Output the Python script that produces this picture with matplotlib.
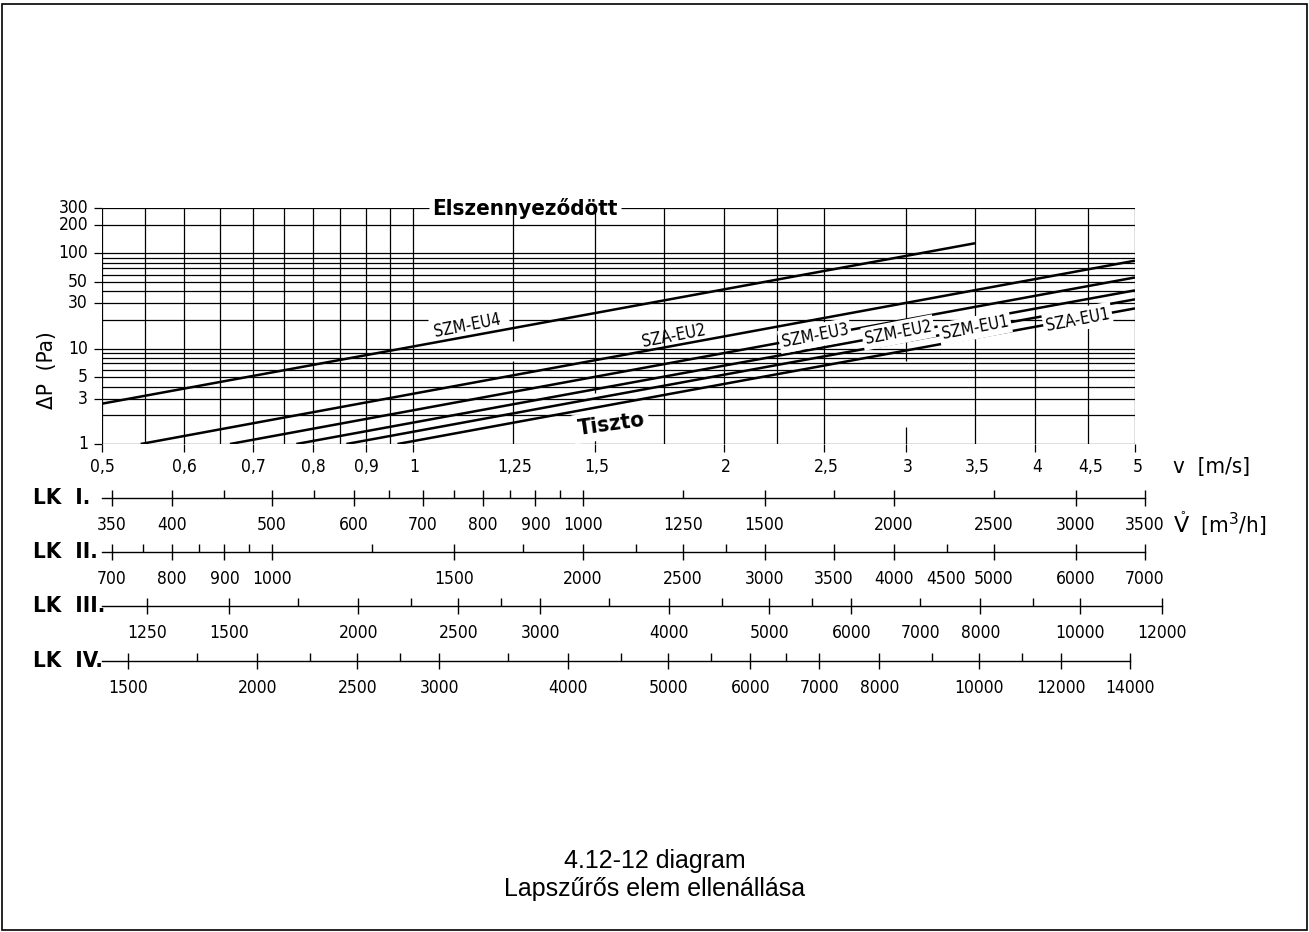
import math
import matplotlib
matplotlib.use("Agg")
import matplotlib.pyplot as plt
from matplotlib import font_manager

# Figure size in pixels
W, H = 1309, 932

# Pressure drop lines, read at both ends: velocity (m/s) and dP (Pa)
curve_names = ["SZM-EU4", "SZA-EU2", "SZM-EU3", "SZM-EU2", "SZM-EU1", "SZA-EU1"]
curve_v = [[0.5, 3.5], [0.545, 5.0], [0.665, 5.0], [0.771, 5.0], [0.862, 5.0], [0.966, 5.0]]
curve_dp = [[2.65, 128], [1, 84], [1, 56], [1, 41], [1, 33], [1, 26.5]]

# Velocity axis
v_ticks = [0.5, 0.6, 0.7, 0.8, 0.9, 1, 1.25, 1.5, 2, 2.5, 3, 3.5, 4, 4.5, 5]
v_labels = ["0,5", "0,6", "0,7", "0,8", "0,9", "1", "1,25", "1,5", "2", "2,5", "3", "3,5", "4", "4,5", "5"]
v_grid = [0.5, 0.55, 0.6, 0.65, 0.7, 0.75, 0.8, 0.85, 0.9, 0.95, 1, 1.25, 1.5, 1.75, 2, 2.25, 2.5, 3, 3.5, 4, 4.5, 5]
v_tick_marks = [0.5, 0.6, 0.7, 0.8, 0.9, 1, 1.5, 2, 2.5, 3, 4, 5]

# Pressure drop axis
dp_ticks = [1, 3, 5, 10, 30, 50, 100, 200, 300]
dp_grid = [1, 2, 3, 4, 5, 6, 7, 8, 9, 10, 30, 40, 50, 60, 70, 80, 90, 100, 200]

# Flow rate scales (m3/h) for the four filter sizes
lk_names = ["LK  I.", "LK  II.", "LK  III.", "LK  IV."]
lk_flow_per_v = [685, 1370, 2259, 2829]
lk_end = [3500, 7000, 12000, 14000]
lk_major = [
    [350, 400, 500, 600, 700, 800, 900, 1000, 1500, 2000, 3000, 3500],
    [700, 800, 900, 1000, 1500, 2000, 2500, 3000, 3500, 4000, 5000, 6000, 7000],
    [1250, 1500, 2000, 2500, 3000, 4000, 5000, 6000, 8000, 10000, 12000],
    [1500, 2000, 2500, 3000, 4000, 5000, 6000, 7000, 8000, 10000, 12000, 14000],
]
lk_minor = [
    [450, 550, 650, 750, 850, 950, 1250, 1750, 2500],
    [750, 850, 950, 1250, 1750, 2250, 2750, 4500],
    [1750, 2250, 2750, 3500, 4500, 5500, 7000, 9000],
    [1750, 2250, 2750, 3500, 4500, 5500, 6500, 9000, 11000],
]
lk_labels = [
    [350, 400, 500, 600, 700, 800, 900, 1000, 1250, 1500, 2000, 2500, 3000, 3500],
    [700, 800, 900, 1000, 1500, 2000, 2500, 3000, 3500, 4000, 4500, 5000, 6000, 7000],
    [1250, 1500, 2000, 2500, 3000, 4000, 5000, 6000, 7000, 8000, 10000, 12000],
    [1500, 2000, 2500, 3000, 4000, 5000, 6000, 7000, 8000, 10000, 12000, 14000],
]


def fx(x):
    return x / W


def fy(y):
    return 1 - y / H


# Narrow font if there is one
installed = {f.name for f in font_manager.fontManager.ttflist}
NARROW = "Liberation Sans Narrow" if "Liberation Sans Narrow" in installed else "DejaVu Sans"
plt.rcParams["font.family"] = [NARROW, "DejaVu Sans"]
TXT = dict(family=[NARROW, "DejaVu Sans"], fontstretch="condensed", color="black")
BOLD = dict(family=[NARROW, "DejaVu Sans"], fontstretch="condensed", fontweight="heavy", color="black")

fig = plt.figure(figsize=(W / 100, H / 100), dpi=100)
fig.patches.append(plt.Rectangle((fx(2), fy(930)), fx(1305), 926 / H, transform=fig.transFigure,
                                 fill=False, edgecolor="black", linewidth=1.2))

# Main chart, pixel box of the grid
L, R, T, B = 102, 1135, 208, 444
ax = fig.add_axes([fx(L), fy(B), fx(R - L), (B - T) / H])
ax.set_xscale("log")
ax.set_yscale("log")
ax.set_xlim(0.5, 5)
ax.set_ylim(1, 300)
ax.axis("off")

gw = 0.9
# horizontal grid
for d in dp_grid:
    ax.hlines(d, 0.5, 5, color="black", lw=gw, zorder=1)
# top line broken for the heading word
ax.hlines(300, 0.5, 1.036, color="black", lw=gw)
ax.hlines(300, 1.589, 5, color="black", lw=gw)
# 20 Pa line broken for the SZM-EU4 label
ax.hlines(20, 0.5, 1.035, color="black", lw=gw)
ax.hlines(20, 1.24, 5, color="black", lw=gw)
ytr = ax.get_yaxis_transform()
ax.hlines(dp_ticks, -8 / (R - L), 0, transform=ytr, color="black", lw=gw, clip_on=False)

# vertical grid, some lines broken
gaps = {1.25: (7.5, 12.1), 1.5: (1.1, 3.4), 3: (1.5, 7.5)}
for v in v_grid:
    if v in gaps:
        lo, hi = gaps[v]
        ax.vlines(v, 1, lo, color="black", lw=gw)
        ax.vlines(v, hi, 300, color="black", lw=gw)
    else:
        ax.vlines(v, 1, 300, color="black", lw=gw)
xtr = ax.get_xaxis_transform()
ax.vlines(v_tick_marks, -8 / (B - T), 0, transform=xtr, color="black", lw=gw, clip_on=False)

# pressure drop lines
for v, dp in zip(curve_v, curve_dp):
    ax.plot(v, dp, color="black", lw=1.8, solid_capstyle="butt", zorder=3)

# curve labels
lab_pos = {"SZM-EU4": (1.128, 17.4, False), "SZA-EU2": (1.79, 13.7, False),
           "SZM-EU3": (2.45, 13.7, True), "SZM-EU2": (2.95, 14.8, True),
           "SZM-EU1": (3.5, 16.6, True), "SZA-EU1": (4.4, 20.3, True)}
for name in curve_names:
    x, y, inline = lab_pos[name]
    kw = dict(bbox=dict(boxstyle="square,pad=0.15", fc="white", ec="none")) if inline else {}
    ax.text(x, y, name, ha="center", va="center", rotation=11, fontsize=12, zorder=5, **TXT, **kw)

ax.text(1.282, 300, "Elszennyeződött", ha="center", va="center", fontsize=16, **BOLD, clip_on=False)
ax.text(1.555, 1.6, "Tiszto", ha="center", va="center", rotation=8, fontsize=16, zorder=6,
        bbox=dict(boxstyle="square,pad=0.2", fc="white", ec="none"), **BOLD)

# axis labels of main chart
for d in dp_ticks:
    ax.text(-14 / (R - L), d, str(d), transform=ytr, ha="right", va="center", fontsize=12.5, **TXT)
for v, s in zip(v_ticks, v_labels):
    fig.text(fx(L + 1036 * math.log10(v / 0.5)), fy(467), s, ha="center", va="center",
             fontsize=12.5, **TXT)
fig.text(fx(47), fy(370), "ΔP  (Pa)", rotation=90, ha="center", va="center", fontsize=16, **TXT)
fig.text(fx(1173), fy(467), "v  [m/s]", ha="left", va="center", fontsize=16, **TXT)
fig.text(fx(1173), fy(524), r"$\mathring{\mathrm{V}}$  [m$^3$/h]", ha="left", va="center", fontsize=16, **TXT)

# flow rate scales
row_y = [498, 552, 606, 661]
for i, yc in enumerate(row_y):
    k = lk_flow_per_v[i]
    ar = fig.add_axes([fx(L), fy(yc + 10), fx(R - L), 20 / H])
    ar.set_xscale("log")
    ar.set_xlim(0.5 * k, 5 * k)
    ar.set_ylim(-1, 1)
    ar.axis("off")
    ar.plot([0.5 * k, lk_end[i]], [0, 0], color="black", lw=1.0, clip_on=False)
    ar.vlines(lk_major[i], -0.8, 0.8, color="black", lw=1.0, clip_on=False)
    ar.vlines(lk_minor[i], 0, 0.8, color="black", lw=1.0, clip_on=False)
    for q in lk_labels[i]:
        ar.text(q, -2.7, str(q), ha="center", va="center", fontsize=12.5, clip_on=False, **TXT)
    fig.text(fx(33), fy(yc), lk_names[i], ha="left", va="center", fontsize=16, **BOLD)

# caption
fig.text(0.5, fy(861), "4.12-12 diagram", ha="center", va="center", fontsize=18,
         family=["Liberation Sans", "DejaVu Sans"])
fig.text(0.5, fy(889), "Lapszűrős elem ellenállása", ha="center", va="center", fontsize=18,
         family=["Liberation Sans", "DejaVu Sans"])

fig.savefig("out.png", dpi=100)
